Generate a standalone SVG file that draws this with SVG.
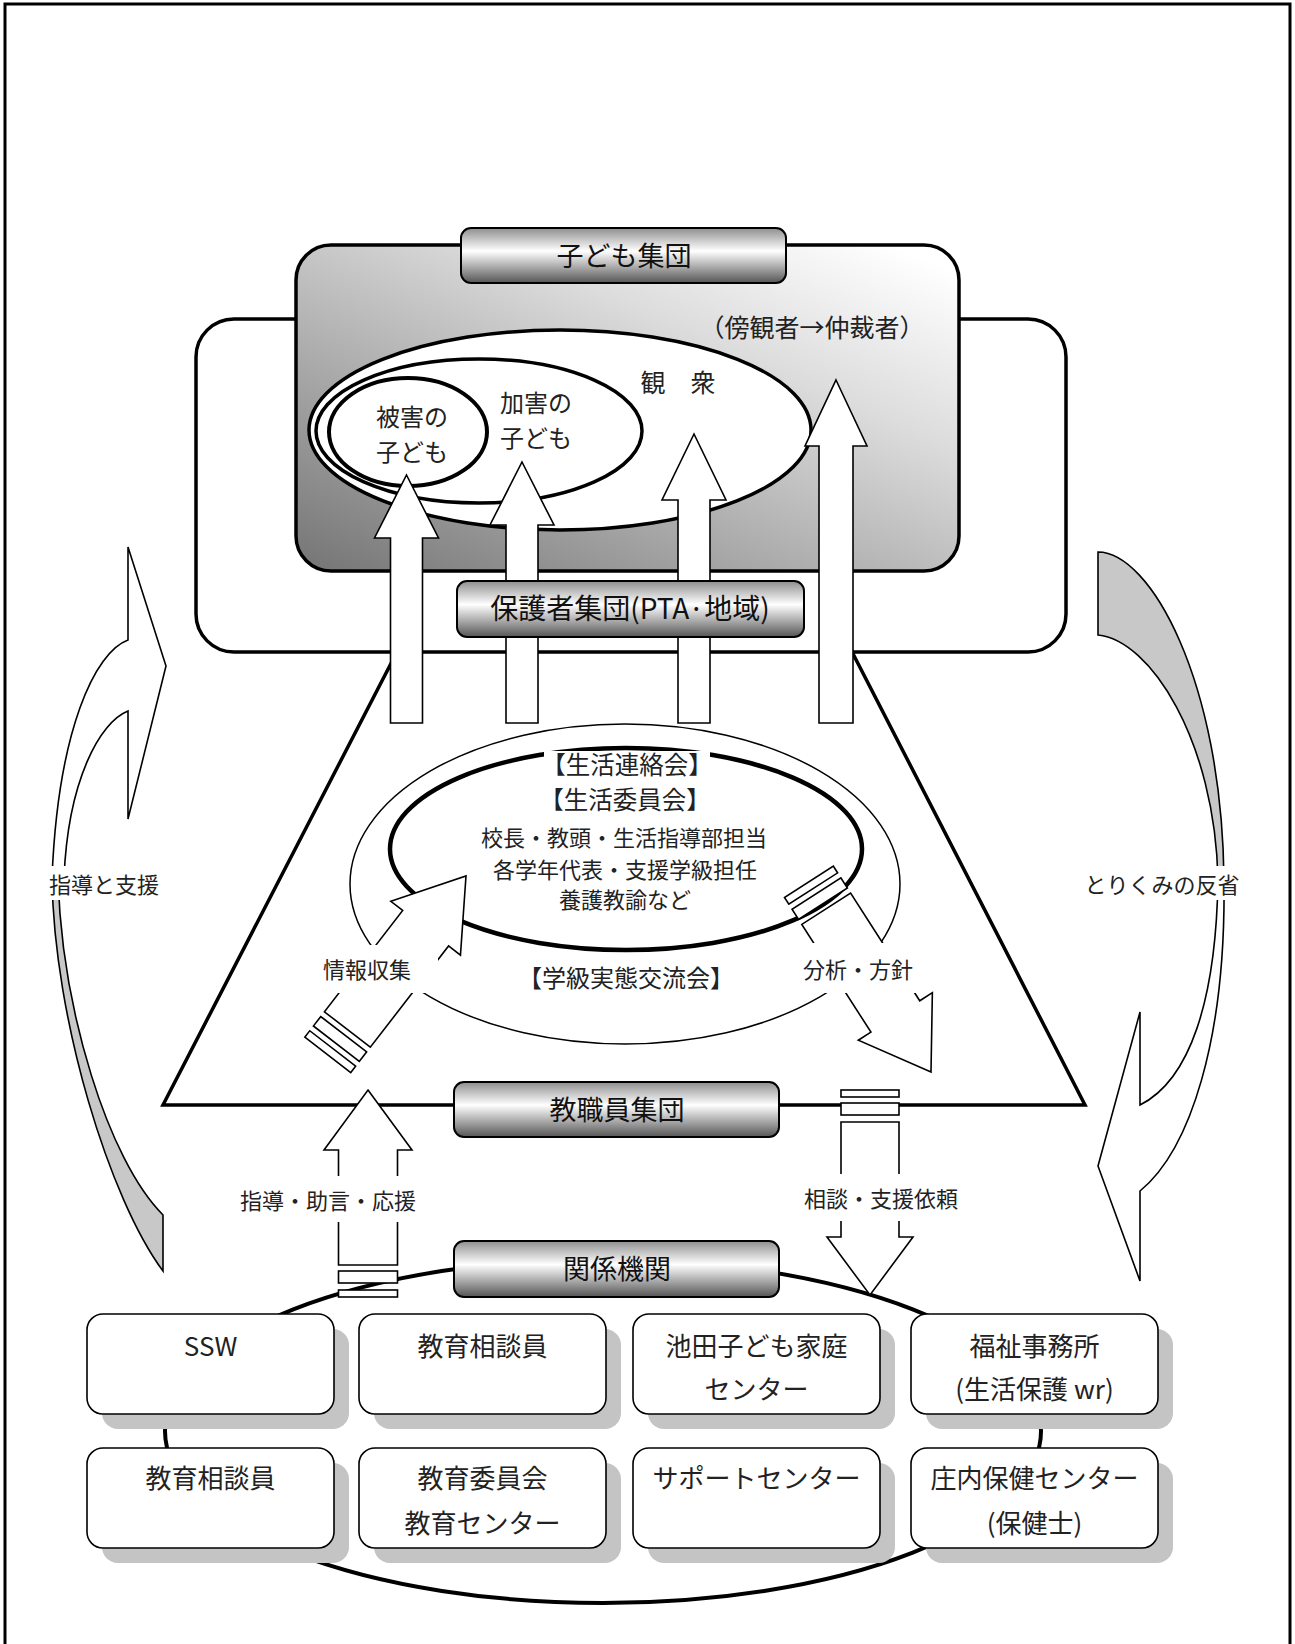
<svg xmlns="http://www.w3.org/2000/svg" width="1295" height="1644" viewBox="0 0 1295 1644">
<defs>
<linearGradient id="lblg" x1="0" y1="0" x2="0" y2="1">
<stop offset="0" stop-color="#8e8e8e"/>
<stop offset="0.42" stop-color="#ffffff"/>
<stop offset="1" stop-color="#555555"/>
</linearGradient>
<linearGradient id="grpg" x1="0" y1="1" x2="0.9" y2="0">
<stop offset="0" stop-color="#747474"/>
<stop offset="0.7" stop-color="#dcdcdc"/>
<stop offset="1" stop-color="#ffffff"/>
</linearGradient>
<style>
text{font-family:"Noto Sans CJK JP","Noto Sans",sans-serif;fill:#222;text-anchor:middle}
.lbl{fill:url(#lblg);stroke:#000;stroke-width:2}
.lt{font-size:27px;fill:#111}
.arr{fill:#fff;stroke:#000;stroke-width:1.6}
.gry{fill:#c8c8c8;stroke:#000;stroke-width:1.6}
.box{fill:#fff;stroke:#000;stroke-width:1.6}
.shd{fill:#c4c4c4}
.bt{font-size:26px}
.sm{font-size:22px}
.bg{fill:#fff}
</style>
</defs>

<path id="frame" d="M5,1644 V4 H1290 V1644" fill="none" stroke="#000" stroke-width="3"/>

<g id="cycle-left">
<path class="arr" d="M128,547 L166,666 L128,819 L128,711 C100,722 68,780 64,878 L52,878 C58,730 95,652 128,640 Z"/>
<path class="gry" d="M52,878 C54,1020 110,1200 163,1271 L163,1215 C108,1160 62,1010 58,878 Z"/>
<rect class="bg" x="42" y="866" width="126" height="34"/>
<text class="sm" x="104" y="893">指導と支援</text>
</g>

<g id="cycle-right">
<path class="gry" d="M1098,552 C1150,552 1222,680 1224,880 L1218,880 C1215,740 1150,640 1098,635 Z"/>
<path class="arr" d="M1224,880 C1226,1040 1190,1150 1140,1191 L1140,1281 L1098,1166 L1140,1012 L1140,1105 C1190,1080 1216,1000 1218,880 Z"/>
<rect class="bg" x="1080" y="866" width="166" height="34"/>
<text class="sm" x="1162" y="893">とりくみの反省</text>
</g>

<path id="staff-trapezoid" d="M400,646 L163,1105 L1085,1105 L849,646" fill="none" stroke="#000" stroke-width="3.5"/>

<g id="guardians">
<rect x="196" y="319" width="870" height="333" rx="38" fill="#fff" stroke="#000" stroke-width="3.5"/>
</g>

<g id="children">
<rect x="296" y="245" width="663" height="326" rx="35" fill="url(#grpg)" stroke="#000" stroke-width="3.5"/>
<ellipse cx="560" cy="430" rx="251" ry="100" fill="#fff" stroke="#000" stroke-width="3.5"/>
<ellipse cx="479" cy="431" rx="163" ry="72" fill="none" stroke="#000" stroke-width="3.5"/>
<ellipse cx="408" cy="432" rx="79" ry="54" fill="none" stroke="#000" stroke-width="4"/>
<text x="412" y="426" style="font-size:24px">被害の</text>
<text x="412" y="461" style="font-size:24px">子ども</text>
<text x="536" y="412" style="font-size:24px">加害の</text>
<text x="536" y="447" style="font-size:24px">子ども</text>
<text x="678" y="392" style="font-size:25px">観　衆</text>
<text x="812" y="337" style="font-size:25px">（傍観者→仲裁者）</text>
</g>

<g id="up-arrows">
<path class="arr" d="M406.5,475 L438.5,538 L422.5,538 L422.5,723 L390.5,723 L390.5,538 L374.5,538 Z"/>
<path class="arr" d="M522,462 L554,525 L538,525 L538,723 L506,723 L506,525 L490,525 Z"/>
<path class="arr" d="M694,434 L726,500 L710,500 L710,723 L678,723 L678,500 L662,500 Z"/>
<path class="arr" d="M836,380 L867,446 L853,446 L853,723 L819,723 L819,446 L805,446 Z"/>
</g>

<g id="label-children">
<rect class="lbl" x="461" y="228" width="325" height="55" rx="10"/>
<text class="lt" x="624" y="266">子ども集団</text>
</g>
<g id="label-guardians">
<rect class="lbl" x="457" y="581" width="347" height="56" rx="10"/>
<text class="lt" x="630" y="619" style="font-size:28px">保護者集団(PTA·地域)</text>
</g>

<g id="council">
<ellipse cx="625" cy="884" rx="275" ry="160" fill="none" stroke="#000" stroke-width="1.5"/>
<ellipse cx="626" cy="849" rx="236" ry="101" fill="#fff" stroke="#000" stroke-width="4.5"/>
<rect class="bg" x="544" y="751" width="166" height="28"/>
<text x="627" y="774" style="font-size:24.5px">【生活連絡会】</text>
<text x="625" y="809" style="font-size:24.5px">【生活委員会】</text>
<text class="sm" x="624" y="846">校長・教頭・生活指導部担当</text>
<text class="sm" x="625" y="878">各学年代表・支援学級担任</text>
<text class="sm" x="625" y="908">養護教諭など</text>
<text x="626" y="987" style="font-size:24px">【学級実態交流会】</text>
</g>

<g id="connectors">
<g transform="translate(466,876) rotate(37.7)">
<path class="arr" d="M0,0 L44,66 L29,66 L29,194 L-29,194 L-29,66 L-44,66 Z"/>
<rect class="arr" x="-29" y="200" width="58" height="12"/>
<rect class="arr" x="-29" y="218" width="58" height="8"/>
</g>
<g transform="translate(931,1072) rotate(147.3)">
<path class="arr" d="M0,0 L44,66 L29,66 L29,194 L-29,194 L-29,66 L-44,66 Z"/>
<rect class="arr" x="-29" y="200" width="58" height="12"/>
<rect class="arr" x="-29" y="218" width="58" height="8"/>
</g>
<rect class="bg" x="318" y="945" width="120" height="48"/>
<text class="sm" x="367" y="978">情報収集</text>
<rect class="bg" x="800" y="943" width="118" height="50"/>
<text class="sm" x="858" y="978">分析・方針</text>

<ellipse cx="603" cy="1431" rx="438" ry="172" fill="none" stroke="#000" stroke-width="4"/>

<path class="arr" d="M368,1090 L412,1150 L397.5,1150 L397.5,1265 L338.5,1265 L338.5,1150 L324,1150 Z"/>
<rect class="arr" x="338.5" y="1271" width="59" height="12"/>
<rect class="arr" x="338.5" y="1290" width="59" height="7"/>
<rect class="bg" x="232" y="1176" width="192" height="46"/>
<text class="sm" x="328" y="1209">指導・助言・応援</text>

<path class="arr" d="M841,1122 H899 V1237 H913 L870,1295 L827,1237 H841 Z"/>
<rect class="arr" x="841" y="1103" width="58" height="12"/>
<rect class="arr" x="841" y="1090" width="58" height="7"/>
<rect class="bg" x="798" y="1174" width="166" height="47"/>
<text class="sm" x="881" y="1207">相談・支援依頼</text>
</g>

<g id="label-staff">
<rect class="lbl" x="454" y="1082" width="325" height="55" rx="10"/>
<text class="lt" x="617" y="1120">教職員集団</text>
</g>
<g id="label-agencies">
<rect class="lbl" x="454" y="1241" width="325" height="56" rx="10"/>
<text class="lt" x="617" y="1279">関係機関</text>
</g>

<g id="shadows">
<rect class="shd" x="102" y="1329" width="247" height="100" rx="16"/>
<rect class="shd" x="374" y="1329" width="247" height="100" rx="16"/>
<rect class="shd" x="648" y="1329" width="247" height="100" rx="16"/>
<rect class="shd" x="926" y="1329" width="247" height="100" rx="16"/>
<rect class="shd" x="102" y="1463" width="247" height="100" rx="16"/>
<rect class="shd" x="374" y="1463" width="247" height="100" rx="16"/>
<rect class="shd" x="648" y="1463" width="247" height="100" rx="16"/>
<rect class="shd" x="926" y="1463" width="247" height="100" rx="16"/>
</g>

<g id="node-ssw"><rect class="box" x="87" y="1314" width="247" height="100" rx="16"/><text class="bt" x="210.5" y="1356">SSW</text></g>
<g id="node-counselor1"><rect class="box" x="359" y="1314" width="247" height="100" rx="16"/><text class="bt" x="482.5" y="1356">教育相談員</text></g>
<g id="node-ikeda"><rect class="box" x="633" y="1314" width="247" height="100" rx="16"/><text class="bt" x="756.5" y="1356">池田子ども家庭</text><text class="bt" x="756.5" y="1399">センター</text></g>
<g id="node-welfare"><rect class="box" x="911" y="1314" width="247" height="100" rx="16"/><text class="bt" x="1034.5" y="1356">福祉事務所</text><text class="bt" x="1034.5" y="1399">(生活保護 wr)</text></g>
<g id="node-counselor2"><rect class="box" x="87" y="1448" width="247" height="100" rx="16"/><text class="bt" x="210.5" y="1488">教育相談員</text></g>
<g id="node-board"><rect class="box" x="359" y="1448" width="247" height="100" rx="16"/><text class="bt" x="482.5" y="1488">教育委員会</text><text class="bt" x="482.5" y="1533">教育センター</text></g>
<g id="node-support"><rect class="box" x="633" y="1448" width="247" height="100" rx="16"/><text class="bt" x="756.5" y="1488">サポートセンター</text></g>
<g id="node-health"><rect class="box" x="911" y="1448" width="247" height="100" rx="16"/><text class="bt" x="1034.5" y="1488">庄内保健センター</text><text class="bt" x="1034.5" y="1533">(保健士)</text></g>
</svg>
